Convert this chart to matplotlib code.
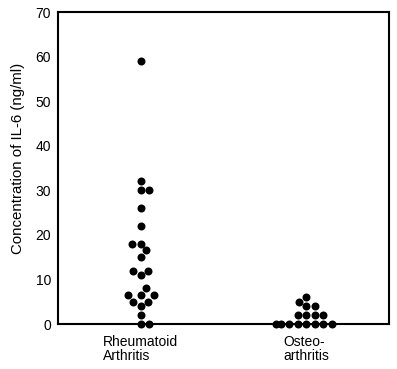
import numpy as np
import matplotlib.pyplot as plt

plt.rcParams['font.family'] = ['Liberation Sans', 'DejaVu Sans']

# values (ng/ml)
groups = ['Rheumatoid\nArthritis', 'Osteo-\narthritis']
ra_values = [59, 32, 30, 30, 26, 22, 18, 18, 16.5, 15, 12, 12, 11, 8,
             6.5, 6.5, 6.5, 5, 5, 4, 2, 0, 0]
oa_values = [0, 0, 0, 0, 0, 0, 0, 0, 2, 2, 2, 2, 4, 4, 5, 6]

W, H, DPI = 397, 369, 100
ax_box = [58 / W, 1 - 324 / H, (389 - 58) / W, (324 - 12) / H]
xmax, ymax = 4, 70
px_x = ax_box[2] * W / xmax   # pixels per x unit
px_y = ax_box[3] * H / ymax   # pixels per y unit
dot = 8.0                      # dot diameter in px
gap = 8.5                      # centre spacing of touching dots


def swarm(vals, center):
    # simple beeswarm: put each dot at the smallest side offset that does not overlap
    placed = []
    xs = []
    steps = sorted(np.arange(-60, 61) * 0.5, key=lambda s: (abs(s), -s))
    for v in vals:
        yp = v * px_y
        for s in steps:
            if all((s - a) ** 2 + (yp - b) ** 2 >= gap ** 2 for a, b in placed):
                break
        placed.append((s, yp))
        xs.append(center + s / px_x)
    return xs


fig = plt.figure(figsize=(W / DPI, H / DPI), dpi=DPI)
ax = fig.add_axes(ax_box)

for i, vals in enumerate([ra_values, oa_values]):
    vals = sorted(vals)
    xs = swarm(vals, 2 * i + 1)
    ax.scatter(xs, vals, s=(dot * 72 / DPI) ** 2, color='black', zorder=5,
               clip_on=False, linewidths=0)

ax.set_xlim(0, xmax)
ax.set_ylim(0, ymax)
ax.set_yticks(range(0, 71, 10))
ax.set_xticks([1, 3])
ax.set_xticklabels(groups, multialignment='left', linespacing=1.0)
ax.tick_params(length=0, labelsize=10, pad=5)
ax.tick_params(axis='x', pad=8)
for sp in ax.spines.values():
    sp.set_linewidth(1.5)
ax.set_ylabel('Concentration of IL-6 (ng/ml)', fontsize=10.8)
ax.yaxis.set_label_coords(-0.10, 0.53)

fig.savefig('out.png', dpi=DPI)
